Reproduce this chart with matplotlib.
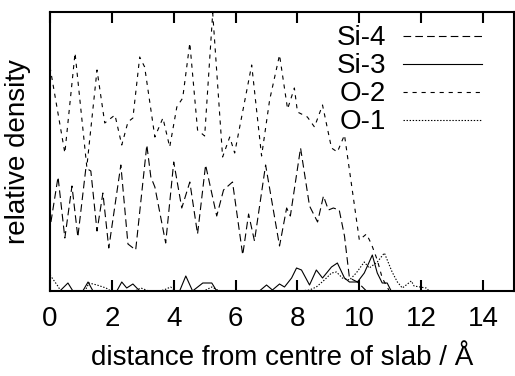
import matplotlib
matplotlib.use("Agg")
import matplotlib.pyplot as plt

plt.rcParams['font.family'] = ['Liberation Sans', 'DejaVu Sans']
plt.rcParams['lines.scale_dashes'] = False

# Si-4
x_si4 = [0.03, 0.26, 0.48, 0.71, 0.90, 1.16, 1.32, 1.52, 1.71, 1.90, 2.29, 2.52, 2.77, 3.13, 3.26,
         3.39, 3.74, 4.00, 4.26, 4.52, 4.77, 5.03, 5.39, 5.61, 5.90, 6.23, 6.42, 6.61, 6.97, 7.42,
         7.65, 7.77, 8.10, 8.39, 8.65, 8.84, 9.00, 9.16, 9.35, 9.52, 9.68, 9.94, 10.23]
y_si4 = [0.69, 1.14, 0.53, 1.05, 0.54, 1.23, 1.20, 0.60, 0.98, 0.43, 1.26, 0.47, 0.41, 1.46, 1.14,
         1.04, 0.48, 1.29, 0.83, 1.09, 0.57, 1.26, 0.75, 1.01, 1.09, 0.36, 0.77, 0.50, 1.26, 0.45,
         0.83, 0.75, 1.43, 0.85, 0.69, 0.95, 0.81, 0.83, 0.81, 0.55, 0.13, 0.09, 0.0]

# Si-3
x_si3 = [0.0, 0.32, 0.58, 0.74, 1.06, 1.23, 1.39, 2.16, 2.32, 2.48, 2.68, 2.90, 4.19, 4.39, 4.61,
         4.94, 5.23, 5.39, 6.77, 7.00, 7.19, 7.42, 7.58, 7.81, 7.97, 8.13, 8.39, 8.61, 8.81, 9.10,
         9.29, 9.52, 9.68, 9.94, 10.16, 10.42, 10.58, 10.74, 10.90, 11.03]
y_si3 = [0, 0, 0.08, 0, 0, 0.09, 0, 0, 0.09, 0.03, 0.07, 0, 0, 0.15, 0,
         0.08, 0.08, 0, 0, 0.06, 0.01, 0.07, 0.04, 0.13, 0.23, 0.21, 0.06, 0.21, 0.13, 0.24,
         0.28, 0.13, 0.09, 0.09, 0.18, 0.36, 0.18, 0.08, 0.08, 0]

# O-2
x_o2 = [0.0, 0.48, 0.81, 1.19, 1.52, 1.77, 2.10, 2.32, 2.52, 2.68, 2.90, 3.06, 3.39, 3.65, 3.87,
        4.10, 4.29, 4.52, 4.77, 5.00, 5.26, 5.58, 5.81, 5.97, 6.52, 6.84, 7.10, 7.42, 7.68, 7.90,
        8.00, 8.32, 8.55, 8.81, 9.10, 9.29, 9.52, 10.0, 10.23, 10.39, 10.58, 10.74, 10.97]
y_o2 = [2.24, 1.38, 2.38, 1.24, 2.21, 1.68, 1.76, 1.46, 1.69, 1.73, 2.34, 2.24, 1.54, 1.73, 1.44,
        1.84, 1.93, 2.48, 1.61, 1.55, 2.78, 1.34, 1.54, 1.38, 2.26, 1.35, 1.91, 2.36, 1.82, 2.03,
        1.79, 1.74, 1.64, 1.86, 1.43, 1.39, 1.56, 0.51, 0.57, 0.47, 0.31, 0.13, 0.0]

# O-1
x_o1 = [0.0, 0.23, 0.35, 1.13, 1.26, 1.52, 1.81, 1.97, 2.74, 2.94, 3.19, 3.48, 3.68, 3.90, 4.06,
        4.97, 5.23, 5.42, 5.55, 8.06, 8.39, 8.61, 8.87, 9.10, 9.26, 9.45, 9.68, 9.90, 10.16, 10.32,
        10.58, 10.81, 11.06, 11.23, 11.39, 11.68, 11.77, 12.16, 12.26]
y_o1 = [0.16, 0.06, 0, 0, 0.08, 0.06, 0.03, 0, 0, 0.03, 0, 0, 0.01, 0.04, 0,
        0, 0.04, 0.01, 0, 0, 0.01, 0.04, 0.11, 0.18, 0.19, 0.13, 0.11, 0.18, 0.29, 0.23,
        0.29, 0.38, 0.19, 0.09, 0.03, 0.10, 0.05, 0.03, 0]

xticks = [0, 2, 4, 6, 8, 10, 12, 14]

fig = plt.figure(figsize=(5.15, 3.76), dpi=100)
ax = fig.add_axes([50/515, 85/376, 464/515, 279/376])

ax.plot(x_si4, y_si4, color="black", lw=0.8, dashes=(5.5, 3), label="Si-4")
ax.plot(x_si3, y_si3, color="black", lw=0.8, label="Si-3")
ax.plot(x_o2, y_o2, color="black", lw=0.8, dashes=(3, 3.5), label="O-2")
ax.plot(x_o1, y_o1, color="black", lw=0.8, dashes=(1, 1.2), label="O-1")

ax.set_xlim(0, 15)
ax.set_ylim(0, 2.79)
ax.set_xticks(xticks)
ax.set_yticks([])
ax.tick_params(axis="x", direction="in", length=8, width=1.5, top=True, labelsize=20, pad=11)
for s in ax.spines.values():
    s.set_linewidth(1.5)

ax.set_xlabel("distance from centre of slab / Å", fontsize=20, labelpad=9)
ax.set_ylabel("relative density", fontsize=20, labelpad=14)

ax.legend(loc="upper right", frameon=False, markerfirst=False, fontsize=20,
          handlelength=2.85, handletextpad=0.6, labelspacing=0.07,
          borderpad=0, borderaxespad=0, bbox_to_anchor=(0.931, 0.952))

plt.savefig("out.png", dpi=100)
